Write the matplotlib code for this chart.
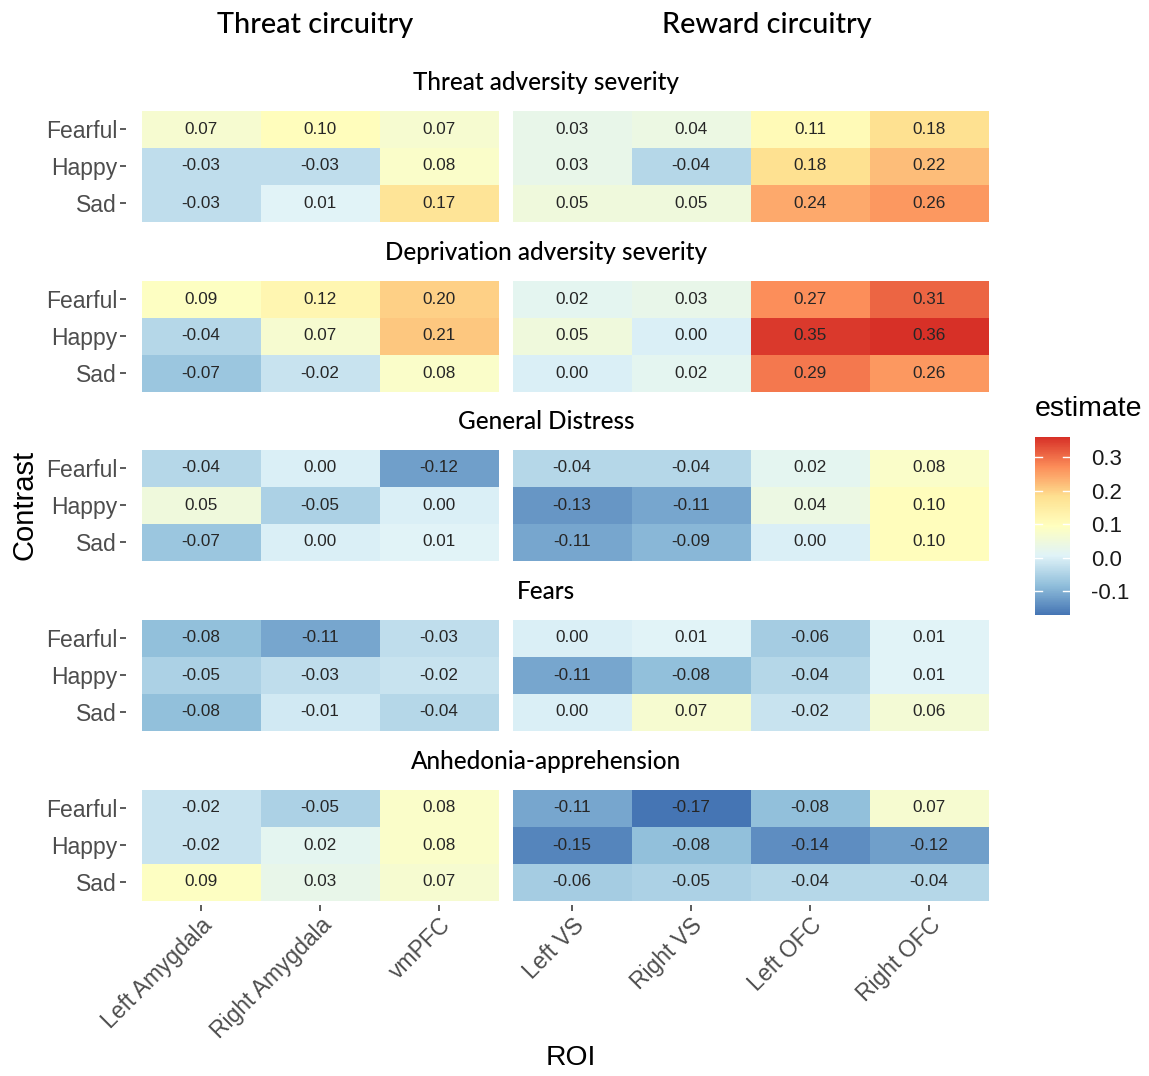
import numpy as np
import matplotlib
matplotlib.use("Agg")
import matplotlib.pyplot as plt
from matplotlib.colors import LinearSegmentedColormap, Normalize
import matplotlib.cm as cm

contrasts = ["Fearful", "Happy", "Sad"]
threat_rois = ["Left Amygdala", "Right Amygdala", "vmPFC"]
reward_rois = ["Left VS", "Right VS", "Left OFC", "Right OFC"]
panels = ["Threat adversity severity", "Deprivation adversity severity",
          "General Distress", "Fears", "Anhedonia-apprehension"]

threat_severity_threat = [[0.07, 0.10, 0.07], [-0.03, -0.03, 0.08], [-0.03, 0.01, 0.17]]
threat_severity_reward = [[0.03, 0.04, 0.11, 0.18], [0.03, -0.04, 0.18, 0.22], [0.05, 0.05, 0.24, 0.26]]
deprivation_threat = [[0.09, 0.12, 0.20], [-0.04, 0.07, 0.21], [-0.07, -0.02, 0.08]]
deprivation_reward = [[0.02, 0.03, 0.27, 0.31], [0.05, 0.00, 0.35, 0.36], [0.00, 0.02, 0.29, 0.26]]
distress_threat = [[-0.04, 0.00, -0.12], [0.05, -0.05, 0.00], [-0.07, 0.00, 0.01]]
distress_reward = [[-0.04, -0.04, 0.02, 0.08], [-0.13, -0.11, 0.04, 0.10], [-0.11, -0.09, 0.00, 0.10]]
fears_threat = [[-0.08, -0.11, -0.03], [-0.05, -0.03, -0.02], [-0.08, -0.01, -0.04]]
fears_reward = [[0.00, 0.01, -0.06, 0.01], [-0.11, -0.08, -0.04, 0.01], [0.00, 0.07, -0.02, 0.06]]
anhedonia_threat = [[-0.02, -0.05, 0.08], [-0.02, 0.02, 0.08], [0.09, 0.03, 0.07]]
anhedonia_reward = [[-0.11, -0.17, -0.08, 0.07], [-0.15, -0.08, -0.14, -0.12], [-0.06, -0.05, -0.04, -0.04]]

threat_data = [threat_severity_threat, deprivation_threat, distress_threat, fears_threat, anhedonia_threat]
reward_data = [threat_severity_reward, deprivation_reward, distress_reward, fears_reward, anhedonia_reward]

vmin, vmax = -0.17, 0.36
cmap = LinearSegmentedColormap.from_list(
    "rdylbu7", ["#4575b4", "#91bfdb", "#e0f3f8", "#ffffbf", "#fee090", "#fc8d59", "#d73027"])
norm = Normalize(vmin, vmax)

W, H = 1149, 1076
fig = plt.figure(figsize=(W / 100, H / 100), dpi=100)
tick_color = "#4D4D4D"
title_font = "Lato"
label_font = "Liberation Sans"


def px_axes(x0, y0, x1, y1):
    return fig.add_axes([x0 / W, 1 - y1 / H, (x1 - x0) / W, (y1 - y0) / H])


row_tops = [110.5, 280.5, 449.5, 619.5, 789.5]
row_h = 111
left_x = (141.5, 498.5)
right_x = (512.5, 988.5)

for i, pname in enumerate(panels):
    top = row_tops[i]
    for j, (data, rois, (xa, xb)) in enumerate([
            (threat_data[i], threat_rois, left_x),
            (reward_data[i], reward_rois, right_x)]):
        ax = px_axes(xa, top, xb, top + row_h)
        ax.patch.set_visible(False)
        arr = np.array(data)
        ax.pcolormesh(np.arange(arr.shape[1] + 1) - 0.5, np.arange(arr.shape[0] + 1) - 0.5,
                      arr, cmap=cmap, norm=norm)
        ax.set_xlim(-0.5, arr.shape[1] - 0.5)
        ax.set_ylim(arr.shape[0] - 0.5, -0.5)
        for r in range(arr.shape[0]):
            for c in range(arr.shape[1]):
                ax.text(c, r, f"{arr[r, c]:.2f}", ha="center", va="center",
                        fontsize=12.3, family=label_font, color="#262626")
        for s in ax.spines.values():
            s.set_visible(False)
        ax.spines["left"].set_position(("outward", 11))
        ax.spines["bottom"].set_position(("outward", 3))
        ax.tick_params(axis="both", length=4.5, width=1.3, color=tick_color,
                       labelcolor=tick_color, labelsize=16.5, pad=2)
        if j == 0:
            ax.set_yticks(range(3))
            ax.set_yticklabels(contrasts, family=label_font)
        else:
            ax.set_yticks([])
        if i == len(panels) - 1:
            ax.set_xticks(range(len(rois)))
            ax.set_xticklabels(rois, rotation=45, ha="right", va="top",
                               rotation_mode="anchor", family=label_font)
        else:
            ax.set_xticks([])
    fig.text(546 / W, 1 - (top - 28) / H, pname, ha="center", va="center",
             fontsize=17.5, family=title_font, fontweight="medium")

fig.text(315 / W, 1 - 25 / H, "Threat circuitry", ha="center", va="center",
         fontsize=20.8, family=title_font, fontweight="medium")
fig.text(767 / W, 1 - 25 / H, "Reward circuitry", ha="center", va="center",
         fontsize=20.8, family=title_font, fontweight="medium")

fig.text(571 / W, 1 - 1058 / H, "ROI", ha="center", va="center",
         fontsize=20.3, family=label_font)
fig.text(25 / W, 1 - 505 / H, "Contrast", ha="center", va="center",
         rotation=90, fontsize=21, family=label_font)

# colorbar
cax = px_axes(1035, 437, 1070, 615)
sm = cm.ScalarMappable(norm=norm, cmap=cmap)
cb = fig.colorbar(sm, cax=cax, ticks=[-0.1, 0.0, 0.1, 0.2, 0.3])
cb.outline.set_visible(False)
cb.ax.set_yticklabels(["-0.1", "0.0", "0.1", "0.2", "0.3"], family=label_font)
cb.ax.tick_params(length=0, labelsize=16, labelcolor="#1a1a1a", pad=15)
for t in [-0.1, 0.0, 0.1, 0.2, 0.3]:
    cb.ax.plot([0, 0.2], [t, t], color="white", lw=1, transform=cb.ax.get_yaxis_transform())
    cb.ax.plot([0.8, 1.0], [t, t], color="white", lw=1, transform=cb.ax.get_yaxis_transform())
fig.text(1089 / W, 1 - 409 / H, "estimate", ha="center", va="center",
         fontsize=20.5, family=label_font)

fig.savefig("out.png", dpi=100)
